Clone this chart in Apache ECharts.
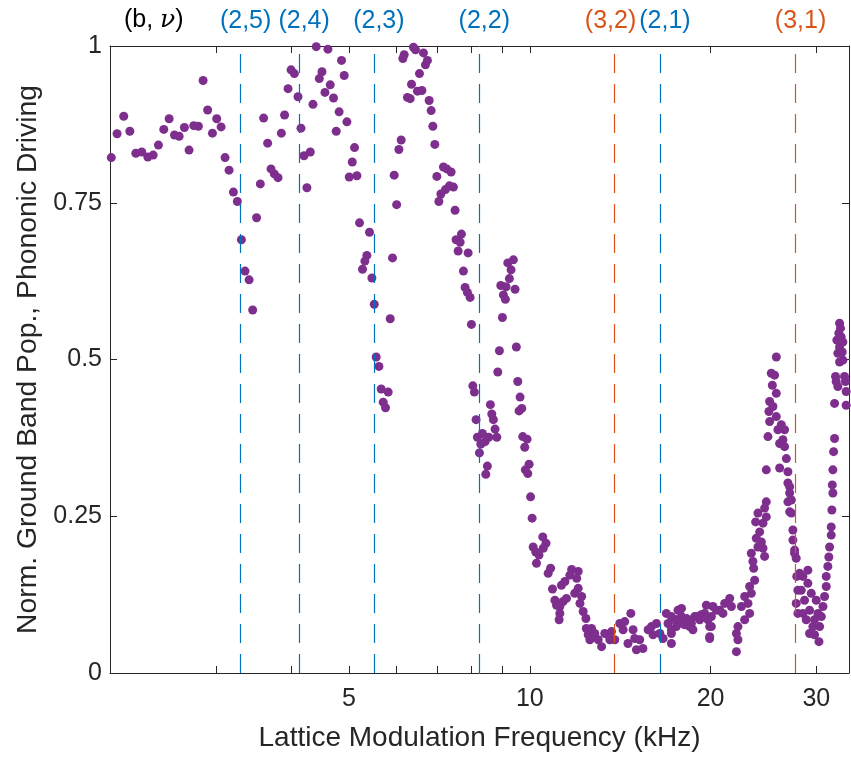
<!DOCTYPE html>
<html>
<head>
<meta charset="utf-8">
<script src="https://cdn.jsdelivr.net/npm/echarts@6/dist/echarts.min.js"></script>
<style>
  html, body { margin: 0; padding: 0; background: #ffffff; }
  #chart { width: 851px; height: 757px; }
</style>
</head>
<body>
<div id="chart"></div>
<script>
// Measured normalized ground-band population vs. lattice modulation frequency.
// Each entry: [frequency (kHz), normalized population]
const measuredPoints = [
  [2.01, 0.822], [2.055, 0.860], [2.108, 0.888], [2.158, 0.864], [2.208, 0.829],
  [2.259, 0.831], [2.312, 0.823], [2.360, 0.826], [2.408, 0.842], [2.458, 0.867],
  [2.509, 0.884], [2.561, 0.858], [2.607, 0.856], [2.660, 0.870], [2.708, 0.834],
  [2.757, 0.873], [2.807, 0.872], [2.858, 0.945], [2.908, 0.898], [2.962, 0.861],
  [3.011, 0.884], [3.062, 0.871], [3.109, 0.822], [3.157, 0.802], [3.210, 0.767],
  [3.259, 0.752], [3.310, 0.691], [3.356, 0.641], [3.409, 0.627], [3.456, 0.579],
  [3.508, 0.726], [3.559, 0.780], [3.604, 0.885], [3.660, 0.845], [3.708, 0.804],
  [3.755, 0.796], [3.809, 0.790], [3.858, 0.861], [3.906, 0.890], [3.958, 0.932],
  [4.004, 0.962], [4.055, 0.956], [4.112, 0.919], [4.159, 0.869], [4.207, 0.825],
  [4.255, 0.774], [4.310, 0.831], [4.355, 0.907], [4.410, 0.999], [4.462, 0.948],
  [4.508, 0.959], [4.560, 0.926], [4.612, 0.995], [4.653, 0.938], [4.712, 0.917],
  [4.761, 0.864], [4.814, 0.895], [4.859, 0.977], [4.909, 0.953], [4.960, 0.879],
  [5.005, 0.791], [5.063, 0.815], [5.107, 0.838], [5.154, 0.793], [5.206, 0.718],
  [5.266, 0.644], [5.314, 0.657], [5.355, 0.666], [5.409, 0.703], [5.459, 0.630],
  [5.508, 0.588], [5.549, 0.504], [5.608, 0.489], [5.657, 0.453], [5.701, 0.432],
  [5.751, 0.423], [5.811, 0.448], [5.856, 0.565], [5.908, 0.662], [5.946, 0.794],
  [6.002, 0.747], [6.054, 0.835], [6.107, 0.850], [6.147, 0.980], [6.178, 0.986],
  [6.256, 0.918], [6.322, 0.916], [6.354, 0.939], [6.402, 0.998], [6.451, 0.994],
  [6.501, 0.928], [6.551, 0.956], [6.612, 0.929], [6.652, 0.989], [6.703, 0.970],
  [6.754, 0.977], [6.799, 0.913], [6.851, 0.897], [6.896, 0.872], [6.948, 0.843],
  [7.002, 0.792], [7.056, 0.752], [7.111, 0.764], [7.182, 0.807], [7.237, 0.771],
  [7.274, 0.804], [7.348, 0.777], [7.396, 0.799], [7.462, 0.775], [7.509, 0.738],
  [7.538, 0.691], [7.597, 0.673], [7.656, 0.687], [7.694, 0.700], [7.753, 0.641],
  [7.803, 0.615], [7.872, 0.607], [7.894, 0.670], [7.955, 0.599], [7.995, 0.556],
  [8.038, 0.458], [8.086, 0.448], [8.139, 0.404], [8.180, 0.376], [8.244, 0.351],
  [8.288, 0.365], [8.339, 0.382], [8.425, 0.369], [8.448, 0.317], [8.499, 0.330],
  [8.545, 0.376], [8.598, 0.428], [8.644, 0.413], [8.697, 0.404], [8.753, 0.389],
  [8.811, 0.376], [8.845, 0.480], [8.900, 0.514], [8.948, 0.618], [9.003, 0.567],
  [9.037, 0.603], [9.106, 0.596], [9.129, 0.616], [9.190, 0.654], [9.247, 0.629],
  [9.307, 0.643], [9.390, 0.659], [9.450, 0.612], [9.497, 0.520], [9.549, 0.465],
  [9.597, 0.418], [9.634, 0.440], [9.697, 0.422], [9.734, 0.377], [9.807, 0.360],
  [9.831, 0.324], [9.896, 0.373], [9.923, 0.318], [9.973, 0.333], [10.03, 0.281],
  [10.09, 0.247], [10.13, 0.201], [10.23, 0.193], [10.26, 0.175], [10.36, 0.188],
  [10.51, 0.217], [10.53, 0.199], [10.64, 0.207], [10.73, 0.159], [10.83, 0.167],
  [10.91, 0.134], [11.01, 0.116], [11.08, 0.108], [11.19, 0.085], [11.22, 0.106],
  [11.22, 0.095], [11.29, 0.140], [11.36, 0.114], [11.44, 0.146], [11.51, 0.119],
  [11.66, 0.156], [11.74, 0.165], [11.88, 0.127], [11.97, 0.151], [12.04, 0.162],
  [12.04, 0.135], [12.12, 0.111], [12.20, 0.122], [12.27, 0.098], [12.40, 0.087],
  [12.42, 0.071], [12.51, 0.061], [12.59, 0.053], [12.67, 0.071], [12.83, 0.063],
  [13.00, 0.053], [13.17, 0.042], [13.33, 0.063], [13.50, 0.061], [13.59, 0.053],
  [13.68, 0.066], [13.85, 0.053], [14.12, 0.079], [14.30, 0.069], [14.39, 0.082],
  [14.57, 0.047], [14.73, 0.095], [14.86, 0.069], [14.95, 0.055], [15.05, 0.037],
  [15.24, 0.053], [15.43, 0.039], [15.74, 0.069], [15.94, 0.074], [16.04, 0.061],
  [16.25, 0.079], [16.46, 0.063], [16.67, 0.055], [16.88, 0.095], [16.99, 0.079],
  [17.21, 0.069], [17.21, 0.047], [17.21, 0.090], [17.21, 0.063], [17.43, 0.085],
  [17.54, 0.074], [17.54, 0.085], [17.65, 0.100], [17.77, 0.100], [17.89, 0.103],
  [17.89, 0.090], [18.00, 0.079], [18.11, 0.077], [18.23, 0.087], [18.46, 0.074],
  [18.46, 0.082], [18.58, 0.079], [18.69, 0.069], [18.81, 0.090], [18.94, 0.090],
  [19.18, 0.085], [19.30, 0.093], [19.55, 0.095], [19.68, 0.108], [19.80, 0.085],
  [19.93, 0.055], [19.93, 0.074], [19.93, 0.058], [20.06, 0.074], [20.06, 0.090],
  [20.18, 0.106], [20.45, 0.100], [20.71, 0.100], [20.97, 0.095], [21.11, 0.111],
  [21.52, 0.119], [21.66, 0.106], [22.08, 0.063], [22.08, 0.034], [22.21, 0.074],
  [22.21, 0.053], [22.51, 0.106], [22.79, 0.122], [22.79, 0.085], [23.08, 0.111],
  [23.23, 0.138], [23.23, 0.095], [23.38, 0.191], [23.38, 0.127], [23.52, 0.178],
  [23.59, 0.167], [23.68, 0.148], [23.77, 0.241], [23.83, 0.215], [23.98, 0.255],
  [23.98, 0.201], [24.14, 0.225], [24.30, 0.209], [24.45, 0.239], [24.45, 0.199],
  [24.60, 0.263], [24.60, 0.186], [24.76, 0.273], [24.76, 0.249], [24.76, 0.324],
  [24.92, 0.377], [25.01, 0.417], [25.08, 0.433], [25.08, 0.401], [25.24, 0.478],
  [25.34, 0.459], [25.40, 0.425], [25.56, 0.475], [25.73, 0.504], [25.73, 0.446],
  [25.73, 0.409], [25.89, 0.388], [26.06, 0.366], [26.06, 0.327], [26.23, 0.396],
  [26.39, 0.372], [26.56, 0.388], [26.56, 0.361], [26.74, 0.342], [26.90, 0.321],
  [26.90, 0.303], [26.90, 0.273], [27.08, 0.287], [27.08, 0.257], [27.08, 0.297],
  [27.26, 0.276], [27.26, 0.255], [27.42, 0.212], [27.42, 0.228], [27.60, 0.191],
  [27.60, 0.196], [27.77, 0.183], [27.77, 0.111], [27.83, 0.154], [27.95, 0.132],
  [27.95, 0.095], [28.13, 0.159], [28.31, 0.132], [28.49, 0.095], [28.49, 0.154],
  [28.67, 0.116], [28.86, 0.085], [29.04, 0.143], [29.04, 0.164], [29.23, 0.063],
  [29.23, 0.100], [29.42, 0.127], [29.60, 0.074], [29.79, 0.061], [29.79, 0.085],
  [29.99, 0.116], [30.18, 0.095], [30.30, 0.050], [30.38, 0.074], [30.58, 0.090],
  [30.77, 0.106], [30.96, 0.122], [31.16, 0.154], [31.16, 0.138], [31.35, 0.170],
  [31.47, 0.185], [31.56, 0.201], [31.76, 0.233], [31.76, 0.220], [31.84, 0.260],
  [31.89, 0.300], [31.96, 0.324], [31.96, 0.287], [32.05, 0.353], [32.17, 0.374],
  [32.17, 0.430], [32.29, 0.473], [32.37, 0.465], [32.45, 0.531], [32.58, 0.510],
  [32.58, 0.457], [32.70, 0.542], [32.79, 0.558], [32.79, 0.520], [32.79, 0.496],
  [32.91, 0.550], [33.00, 0.536], [33.13, 0.512], [33.21, 0.528], [33.21, 0.499],
  [33.42, 0.473], [33.54, 0.465], [33.63, 0.449], [33.63, 0.427]
];

// Expected resonances, labelled (b, nu); b = 2 blue, b = 3 orange
const resonanceFreqKHz = [3.30, 4.13, 5.50, 8.24, 13.84, 16.47, 27.7];
const resonanceLabels = ['(2,5)', '(2,4)', '(2,3)', '(2,2)', '(3,2)', '(2,1)', '(3,1)'];
const resonanceBand = [2, 2, 2, 2, 3, 2, 3];

// Axis ticks
const xTickValues = [3, 4, 5, 6, 7, 8, 9, 10, 20, 30];
const xLabelValues = [5, 10, 20, 30];
const xRange = [2, 34];
const yRange = [0, 1];
const yStep = 0.25;

const bandColor = { 2: '#0072BD', 3: '#D95319' };
const ink = '#262626';
const font = "'Liberation Sans', Arial, Helvetica, sans-serif";

const resonanceLines = resonanceFreqKHz.map((f, i) => {
  const c = bandColor[resonanceBand[i]];
  return {
    xAxis: f,
    lineStyle: { color: c, type: [19, 11], width: 1.2 },
    label: {
      show: true,
      position: 'end',
      formatter: resonanceLabels[i],
      color: c,
      fontSize: 25,
      fontFamily: font,
      distance: 12,
      padding: i === 4 ? [0, 8, 0, 0] : [0, 0, 0, 10]
    }
  };
});

const baseX = {
  type: 'log',
  logBase: 10,
  min: xRange[0],
  max: xRange[1],
  splitLine: { show: false },
  minorTick: { show: false },
  axisLine: { show: true, onZero: false, lineStyle: { color: ink, width: 1 } },
  axisTick: { show: true, inside: true, length: 7, customValues: xTickValues,
              lineStyle: { color: ink, width: 1 } }
};
const baseY = {
  type: 'value',
  min: yRange[0],
  max: yRange[1],
  interval: yStep,
  splitLine: { show: false },
  axisLine: { show: true, onZero: false, lineStyle: { color: ink, width: 1 } },
  axisTick: { show: true, inside: true, length: 7, lineStyle: { color: ink, width: 1 } }
};

const chart = echarts.init(document.getElementById('chart'), null, { renderer: 'canvas' });
chart.setOption({
  animation: false,
  backgroundColor: '#ffffff',
  title: {
    text: '(b, {nu|ν})',
    left: 119,
    top: 3,
    textStyle: {
      fontSize: 25, fontWeight: 'normal', color: '#000000', fontFamily: font,
      rich: { nu: { fontSize: 25, fontStyle: 'italic', fontFamily: "'DejaVu Serif', 'Liberation Serif', serif", color: '#000000' } }
    }
  },
  grid: { left: 110, right: 2, top: 46, bottom: 84, containLabel: false },
  xAxis: [
    Object.assign({}, baseX, {
      position: 'bottom',
      axisLabel: { show: true, customValues: xLabelValues, fontSize: 25, color: ink,
                   fontFamily: font, margin: 14, formatter: v => String(Math.round(v)) },
      name: 'Lattice Modulation Frequency (kHz)',
      nameLocation: 'middle',
      nameGap: 51,
      nameTextStyle: { fontSize: 28, color: ink, fontFamily: font }
    }),
    Object.assign({}, baseX, {
      position: 'top',
      axisLabel: { show: false }
    })
  ],
  yAxis: [
    Object.assign({}, baseY, {
      position: 'left',
      axisLabel: { show: true, fontSize: 25, color: ink, fontFamily: font, margin: 8 },
      name: 'Norm. Ground Band Pop., Phononic Driving',
      nameLocation: 'middle',
      nameGap: 68,
      nameTextStyle: { fontSize: 28.3, color: ink, fontFamily: font }
    }),
    Object.assign({}, baseY, {
      position: 'right',
      axisLabel: { show: false }
    })
  ],
  series: [
    {
      // resonance markers, drawn beneath the data points
      type: 'scatter',
      xAxisIndex: 0,
      yAxisIndex: 0,
      data: [],
      z: 1,
      markLine: {
        silent: true,
        symbol: ['none', 'none'],
        animation: false,
        data: resonanceLines
      }
    },
    {
      type: 'scatter',
      xAxisIndex: 0,
      yAxisIndex: 0,
      z: 3,
      symbol: 'circle',
      symbolSize: 9,
      itemStyle: { color: '#7E2F8E', opacity: 1 },
      data: measuredPoints
    }
  ]
});
</script>
</body>
</html>
